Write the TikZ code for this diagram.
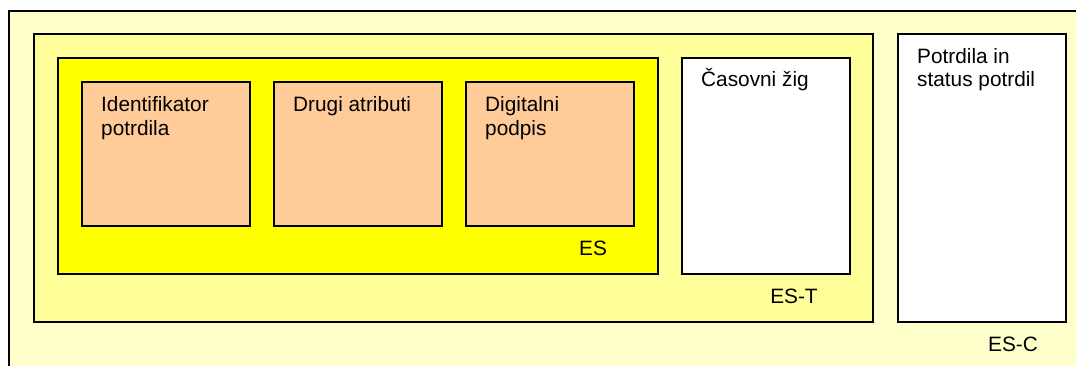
\documentclass[tikz,border=0pt]{standalone}
\usepackage{fontspec}
\setmainfont{Liberation Sans}
\definecolor{outerfill}{HTML}{FFFFCC}
\definecolor{estfill}{HTML}{FFFF99}
\definecolor{esfill}{HTML}{FFFF00}
\definecolor{orangefill}{HTML}{FFCC99}
\begin{document}
\begin{tikzpicture}[x=1pt,y=-1pt,
  box/.style={draw=black,line width=2pt,rectangle,inner sep=0pt,anchor=north west},
  lbl/.style={font=\fontsize{20.8}{23.4}\selectfont,inner sep=0pt,align=left,anchor=base west},
  tag/.style={font=\fontsize{20.8}{23.4}\selectfont,inner sep=0pt,anchor=base}]
\useasboundingbox (0,0) rectangle (1076,365);
\fill[white] (0,0) rectangle (1076,365);
% outer box (extends beyond the visible area)
\node[box,fill=outerfill,minimum width=1100pt,minimum height=400pt] (outer) at (8,9.5) {};
% ES-T
\node[box,fill=estfill,minimum width=839pt,minimum height=288pt] (est) at (32.5,33) {};
% ES
\node[box,fill=esfill,minimum width=600pt,minimum height=216pt] (es) at (56.5,57) {};
% inner boxes
\node[box,fill=orangefill,minimum width=168pt,minimum height=144pt] (id) at (80.5,81) {};
\node[box,fill=orangefill,minimum width=168pt,minimum height=144pt] (attr) at (272.5,81) {};
\node[box,fill=orangefill,minimum width=168pt,minimum height=144pt] (sig) at (464.5,81) {};
% time stamp
\node[box,fill=white,minimum width=168pt,minimum height=216pt] (ts) at (680.5,57) {};
% certificates
\node[box,fill=white,minimum width=168pt,minimum height=288pt] (cert) at (896.5,33) {};
% labels (base anchor of a two-line node lies on its last line)
\node[lbl] (tid) at (101,135.1) {Identifikator\\potrdila};
\node[lbl] (tattr) at (293,111.7) {Drugi atributi};
\node[lbl] (tsig) at (485,135.1) {Digitalni\\podpis};
\node[lbl] (tts) at (701,86.7) {Časovni žig};
\node[lbl] (tcert) at (917,86.7) {Potrdila in\\status potrdil};
\node[tag] (tes) at (593,255) {ES};
\node[tag] (test) at (794,303) {ES-T};
\node[tag] (tesc) at (1013,351) {ES-C};
\end{tikzpicture}
\end{document}
